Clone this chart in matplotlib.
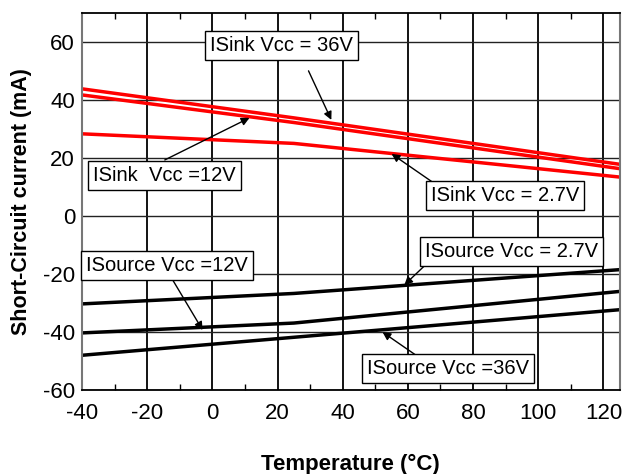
import matplotlib
matplotlib.use("agg")
import numpy as np
import matplotlib.pyplot as plt
from matplotlib.ticker import MultipleLocator

plt.rcParams['font.family'] = ['Liberation Sans', 'DejaVu Sans']
plt.rcParams['axes.unicode_minus'] = False

# temperature break points (degC)
temp = [-40, 25, 125]

# sink current (mA), red curves
isink_36v = [43.8, 33.8, 17.8]
isink_12v = [41.7, 32.2, 16.3]
isink_2v7 = [28.3, 25.0, 13.4]

# source current (mA), black curves
isrc_2v7 = [-30.3, -26.7, -18.5]
isrc_12v = [-40.3, -36.9, -26.0]
isrc_36v = [-48.0, -41.8, -32.3]

fig = plt.figure(figsize=(6.26, 4.74), dpi=100)
ax = fig.add_axes([0.131, 0.177, 0.859, 0.796])

ax.set_xlim(-40, 125)
ax.set_ylim(-60, 70)
ax.xaxis.set_major_locator(MultipleLocator(20))
ax.xaxis.set_minor_locator(MultipleLocator(10))
ax.set_yticks(np.arange(-60, 61, 20))

ax.grid(axis='x', which='major', color='black', linewidth=1.3)
ax.grid(axis='y', which='major', color='#222222', linewidth=1.0)
ax.set_axisbelow(True)

ax.tick_params(axis='both', which='major', direction='in', length=0, labelsize=16, pad=5)
ax.tick_params(axis='x', which='major', pad=9)
ax.tick_params(axis='x', which='minor', direction='in', length=4, width=1, top=True, bottom=True)
for side in ['top', 'bottom']:
    ax.spines[side].set_color('black')
    ax.spines[side].set_linewidth(1.3)
for side in ['left', 'right']:
    ax.spines[side].set_color('#777777')
    ax.spines[side].set_linewidth(1.5)

lw = 2.5
ax.plot(temp, isink_36v, color='#ff0000', linewidth=lw)
ax.plot(temp, isink_12v, color='#ff0000', linewidth=lw)
ax.plot(temp, isink_2v7, color='#ff0000', linewidth=lw)
ax.plot(temp, isrc_2v7, color='black', linewidth=lw)
ax.plot(temp, isrc_12v, color='black', linewidth=lw)
ax.plot(temp, isrc_36v, color='black', linewidth=lw)

box = dict(boxstyle='square,pad=0.25', facecolor='white', edgecolor='black', linewidth=1)
arrow = dict(arrowstyle='-|>', color='black', linewidth=1, mutation_scale=12, shrinkA=0, shrinkB=0)

def note(text, tip, tail, pos):
    ax.annotate('', xy=tip, xytext=tail, arrowprops=arrow)
    ax.text(pos[0], pos[1], text, fontsize=14.5, ha='center', va='center', bbox=box, zorder=5)

note('ISink Vcc = 36V', (36.5, 33.1), (29.5, 50), (21.3, 58.6))
note('ISink  Vcc =12V', (11.4, 33.8), (-14.6, 19.3), (-14.7, 14.0))
note('ISink Vcc = 2.7V', (55, 21.4), (67.5, 11.7), (89.8, 7.1))
note('ISource Vcc = 2.7V', (58.9, -23.8), (66, -16.2), (91.7, -12.1))
note('ISource Vcc =12V', (-3, -39.3), (-12.2, -22), (-14, -17.2))
note('ISource Vcc =36V', (52.2, -40), (62.5, -48), (72.4, -52.4))

ax.set_xlabel('Temperature (°C)', fontsize=16, fontweight='bold', labelpad=22)
ax.set_ylabel('Short-Circuit current (mA)', fontsize=15.5, fontweight='bold', labelpad=8)

fig.savefig('out.png', dpi=100)
